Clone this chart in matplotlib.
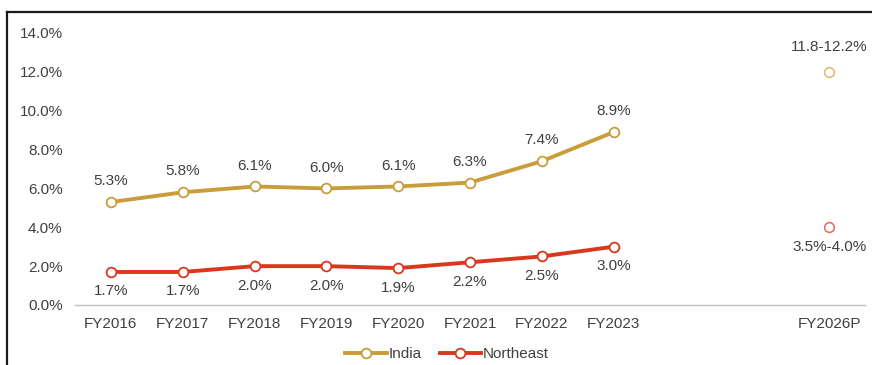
import matplotlib
matplotlib.use("Agg")
import matplotlib.pyplot as plt
from matplotlib.lines import Line2D

plt.rcParams['font.family'] = ['Liberation Sans', 'DejaVu Sans']

# fiscal years on the axis; FY2024/FY2025 are kept as empty slots
years = ["FY2016", "FY2017", "FY2018", "FY2019", "FY2020",
         "FY2021", "FY2022", "FY2023", "", "", "FY2026P"]

india = [5.3, 5.8, 6.1, 6.0, 6.1, 6.3, 7.4, 8.9]
northeast = [1.7, 1.7, 2.0, 2.0, 1.9, 2.2, 2.5, 3.0]

# projections for FY2026P (point drawn at the plotted estimate)
india_proj = 12.0
india_proj_label = "11.8-12.2%"
ne_proj = 4.0
ne_proj_label = "3.5%-4.0%"

GOLD = "#C99E3A"
RED = "#D9381E"
TXT = "#404040"

fig = plt.figure(figsize=(8.72, 3.65), dpi=100)
ax = fig.add_axes([75 / 872, 60 / 365, 790 / 872, 272 / 365])

x = list(range(len(india)))
x_proj = len(years) - 1

ax.plot(x, india, color=GOLD, lw=2.8, marker="o", ms=7, mfc="white",
        mec=GOLD, mew=1.3, label="India", zorder=3)
ax.plot(x, northeast, color=RED, lw=2.8, marker="o", ms=7, mfc="white",
        mec=RED, mew=1.3, label="Northeast", zorder=3)

ax.plot([x_proj], [india_proj], ls="none", marker="o", ms=7, mfc="white",
        mec="#E2B86A", mew=1.1, zorder=3)
ax.plot([x_proj], [ne_proj], ls="none", marker="o", ms=7, mfc="white",
        mec="#E6695A", mew=1.1, zorder=3)

fs = 11
for xi, v in zip(x, india):
    ax.annotate(f"{v:.1f}%", (xi, v), xytext=(0, 10), textcoords="offset points",
                ha="center", va="bottom", fontsize=fs, color=TXT)
for xi, v in zip(x, northeast):
    ax.annotate(f"{v:.1f}%", (xi, v), xytext=(0, -9), textcoords="offset points",
                ha="center", va="top", fontsize=fs, color=TXT)
ax.annotate(india_proj_label, (x_proj, india_proj), xytext=(0, 13),
            textcoords="offset points", ha="center", va="bottom", fontsize=fs, color=TXT)
ax.annotate(ne_proj_label, (x_proj, ne_proj), xytext=(0, -9),
            textcoords="offset points", ha="center", va="top", fontsize=fs, color=TXT)

ax.set_xlim(-0.5, len(years) - 0.5)
ax.set_ylim(0, 14)
ax.set_xticks(range(len(years)))
ax.set_xticklabels(years)
ax.set_yticks([0, 2, 4, 6, 8, 10, 12, 14])
ax.set_yticklabels([f"{t:.1f}%" for t in [0, 2, 4, 6, 8, 10, 12, 14]])
ax.tick_params(axis="both", length=0, labelsize=fs, labelcolor=TXT)
ax.tick_params(axis="y", pad=9)
ax.tick_params(axis="x", pad=9)

for side in ["top", "right", "left"]:
    ax.spines[side].set_visible(False)
ax.spines["bottom"].set_color("#BFBFBF")
ax.spines["bottom"].set_linewidth(1.0)

fig.legend(loc="center", bbox_to_anchor=(447 / 872, 1 - 354 / 365), ncol=2,
           frameon=False, fontsize=fs, handlelength=2.7, handletextpad=0.1,
           columnspacing=1.2, labelcolor=TXT)

# frame lines around the chart box
fig.add_artist(Line2D([6.5 / 872, 1], [1 - 12 / 365, 1 - 12 / 365],
                      transform=fig.transFigure, color="#1A1A1A", lw=1.6))
fig.add_artist(Line2D([6.5 / 872, 6.5 / 872], [0, 1 - 12 / 365],
                      transform=fig.transFigure, color="#1A1A1A", lw=1.6))

fig.savefig("out.png", dpi=100)
